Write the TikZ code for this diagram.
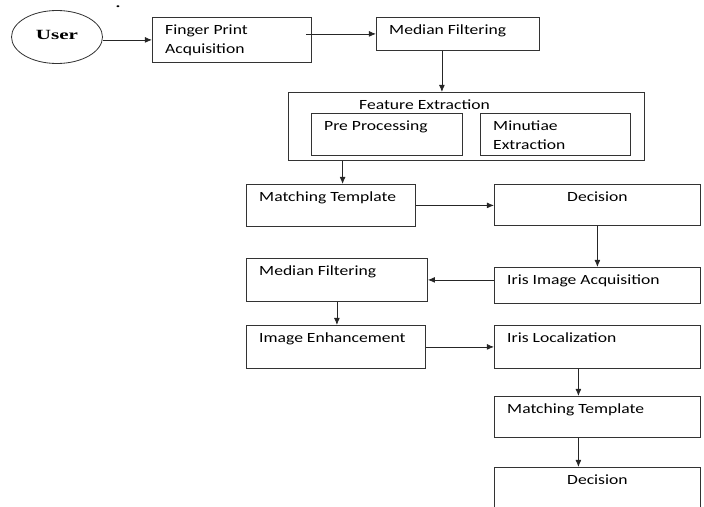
\documentclass[tikz,border=0pt]{standalone}
\usepackage{fontspec}
\newfontfamily\boxfont{Carlito}[FakeStretch=1.25]
\newfontfamily\userfont{Liberation Serif}[FakeStretch=1.5]
\usetikzlibrary{shapes.geometric,arrows.meta,positioning}

\begin{document}
\begin{tikzpicture}[
    x=0.03cm, y=-0.03cm,
    % Stili
    block/.style={
        rectangle, draw=black!80, line width=0.7pt,
        anchor=north west, inner sep=0pt
    },
    txt/.style={
        anchor=base west, inner sep=0pt, align=left,
        xshift=0.39cm, yshift=-0.53cm,
        font=\fontsize{12}{16}\boxfont
    },
    twolines/.style={yshift=-16pt},
    ctxt/.style={
        anchor=base, inner sep=0pt,
        yshift=-0.53cm, font=\fontsize{12}{16}\boxfont
    },
    arrow/.style={-{Latex[length=6pt,width=5pt]}, line width=0.7pt, black!85}
]

\clip (0,0) rectangle (704,506);

% Utente
\node[ellipse, draw=black!80, line width=0.7pt, inner sep=0pt,
      minimum width=2.73cm, minimum height=1.59cm,
      label={[anchor=base, inner sep=0pt, yshift=0.05cm,
              font=\fontsize{12}{14}\userfont\bfseries]center:User}] (user) at (57,37) {};
\node[font=\userfont\bfseries, inner sep=0pt, anchor=base] (dot) at (118,8) {.};

% Impronta digitale
\node[block, minimum width=4.77cm, minimum height=1.35cm,
      label={[txt, twolines]north west:Finger Print\\Acquisition}] (fp) at (152,17) {};
\node[block, minimum width=4.89cm, minimum height=0.99cm,
      label={[txt]north west:Median Filtering}] (mf1) at (376,17) {};

% Feature Extraction
\node[block, minimum width=10.68cm, minimum height=2.04cm,
      label={[txt, xshift=1.74cm]north west:Feature Extraction}] (fe) at (288,92) {};
\node[block, minimum width=4.53cm, minimum height=1.26cm,
      label={[txt]north west:Pre Processing}] (pre) at (311,113) {};
\node[block, minimum width=4.5cm, minimum height=1.26cm,
      label={[txt, twolines]north west:Minutiae\\Extraction}] (minu) at (480,113) {};

% Matching e decisione
\node[block, minimum width=5.07cm, minimum height=1.26cm,
      label={[txt]north west:Matching Template}] (mt1) at (246,184) {};
\node[block, minimum width=6.18cm, minimum height=1.23cm,
      label={[ctxt]north:Decision}] (dec1) at (494,184) {};

% Iride
\node[block, minimum width=5.43cm, minimum height=1.29cm,
      label={[txt]north west:Median Filtering}] (mf2) at (246,258) {};
\node[block, minimum width=6.18cm, minimum height=1.08cm,
      label={[txt]north west:Iris Image Acquisition}] (iia) at (494,267) {};
\node[block, minimum width=5.37cm, minimum height=1.29cm,
      label={[txt]north west:Image Enhancement}] (ie) at (246,325) {};
\node[block, minimum width=6.18cm, minimum height=1.29cm,
      label={[txt]north west:Iris Localization}] (il) at (494,325) {};
\node[block, minimum width=6.18cm, minimum height=1.23cm,
      label={[txt]north west:Matching Template}] (mt2) at (494,396) {};
\node[block, minimum width=6.18cm, minimum height=2.19cm,
      label={[ctxt]north:Decision}] (dec2) at (494,467) {};

% Frecce
\draw[arrow] (user.east |- fp.west) -- (fp.west);
\draw[arrow] ([xshift=-0.18cm]fp.east |- mf1.west) -- (mf1.west);
\draw[arrow] ([xshift=-0.48cm]mf1.south) -- ([xshift=-0.48cm]mf1.south |- fe.north);
\draw[arrow] ([xshift=0.35cm]mt1.north |- fe.south) -- ([xshift=0.35cm]mt1.north);
\draw[arrow] (mt1.east) -- (mt1.east -| dec1.west);
\draw[arrow] (dec1.south) -- (iia.north);
\draw[arrow] (iia.west |- mf2.east) -- (mf2.east);
\draw[arrow] (mf2.south) -- (mf2.south |- ie.north);
\draw[arrow] (ie.east) -- (ie.east -| il.west);
\draw[arrow] ([xshift=-0.57cm]il.south) -- ([xshift=-0.57cm]mt2.north);
\draw[arrow] ([xshift=-0.57cm]mt2.south) -- ([xshift=-0.57cm]dec2.north);

\end{tikzpicture}
\end{document}
